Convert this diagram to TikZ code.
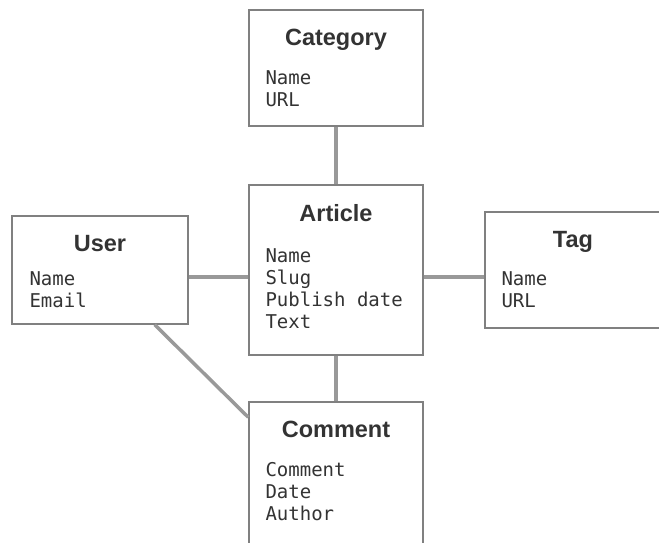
\documentclass[tikz,border=0pt]{standalone}
\usepackage{fontspec}
\usepackage{tikz}
\newfontfamily\headsans{Liberation Sans}
\newfontfamily\fieldmono{DejaVu Sans Mono}
\definecolor{ink}{HTML}{333333}
\definecolor{boxgray}{HTML}{808080}
\definecolor{linkgray}{HTML}{999999}

\begin{document}
\begin{tikzpicture}[x=1pt,y=1pt,
  box/.style={draw=boxgray,line width=1.3pt,fill=white,inner sep=0pt},
  title/.style={font=\headsans\bfseries\fontsize{23.5}{26}\selectfont,text=ink,anchor=base,inner sep=0pt},
  fields/.style={font=\fieldmono\fontsize{19}{22}\selectfont,text=ink,anchor=base west,align=left,inner sep=0pt},
  link/.style={draw=linkgray,line width=3.5pt}]
\useasboundingbox (0,0) rectangle (659,542);
\clip (0,0) rectangle (659,542);
%
\node[box,minimum width=174pt,minimum height=116pt] (category) at (336,474) {};
\node[box,minimum width=174pt,minimum height=170pt] (article) at (336,272) {};
\node[box,minimum width=176pt,minimum height=108pt] (user) at (100,272) {};
\node[box,minimum width=176pt,minimum height=116pt] (tag) at (573,272) {};
\node[box,minimum width=174pt,minimum height=150pt] (comment) at (336,65) {};
%
% fields: base = last line, so shift = first baseline + (lines-1)*22
\node[title] (categorytitle) at ([yshift=-36pt]category.north) {Category};
\node[fields] (categoryfields) at ([xshift=17pt,yshift=-97pt]category.north west) {Name\\URL};
\node[title] (articletitle) at ([yshift=-37pt]article.north) {Article};
\node[fields] (articlefields) at ([xshift=17pt,yshift=-144pt]article.north west) {Name\\Slug\\Publish date\\Text};
\node[title] (usertitle) at ([yshift=-36pt]user.north) {User};
\node[fields] (userfields) at ([xshift=18pt,yshift=-92pt]user.north west) {Name\\Email};
\node[title] (tagtitle) at ([yshift=-36pt]tag.north) {Tag};
\node[fields] (tagfields) at ([xshift=17pt,yshift=-96pt]tag.north west) {Name\\URL};
\node[title] (commenttitle) at ([yshift=-36pt]comment.north) {Comment};
\node[fields] (commentfields) at ([xshift=17pt,yshift=-119pt]comment.north west) {Comment\\Date\\Author};
%
\draw[link] (category.south) -- (article.north);
\draw[link] (article.south) -- (comment.north);
\draw[link] ([yshift=-7pt]user.east) -- ([yshift=-7pt]article.west);
\draw[link] ([yshift=-7pt]article.east) -- ([yshift=-7pt]tag.west);
\draw[link] ([xshift=-34pt]user.south east) -- ([yshift=-16pt]comment.north west);
\end{tikzpicture}
\end{document}
